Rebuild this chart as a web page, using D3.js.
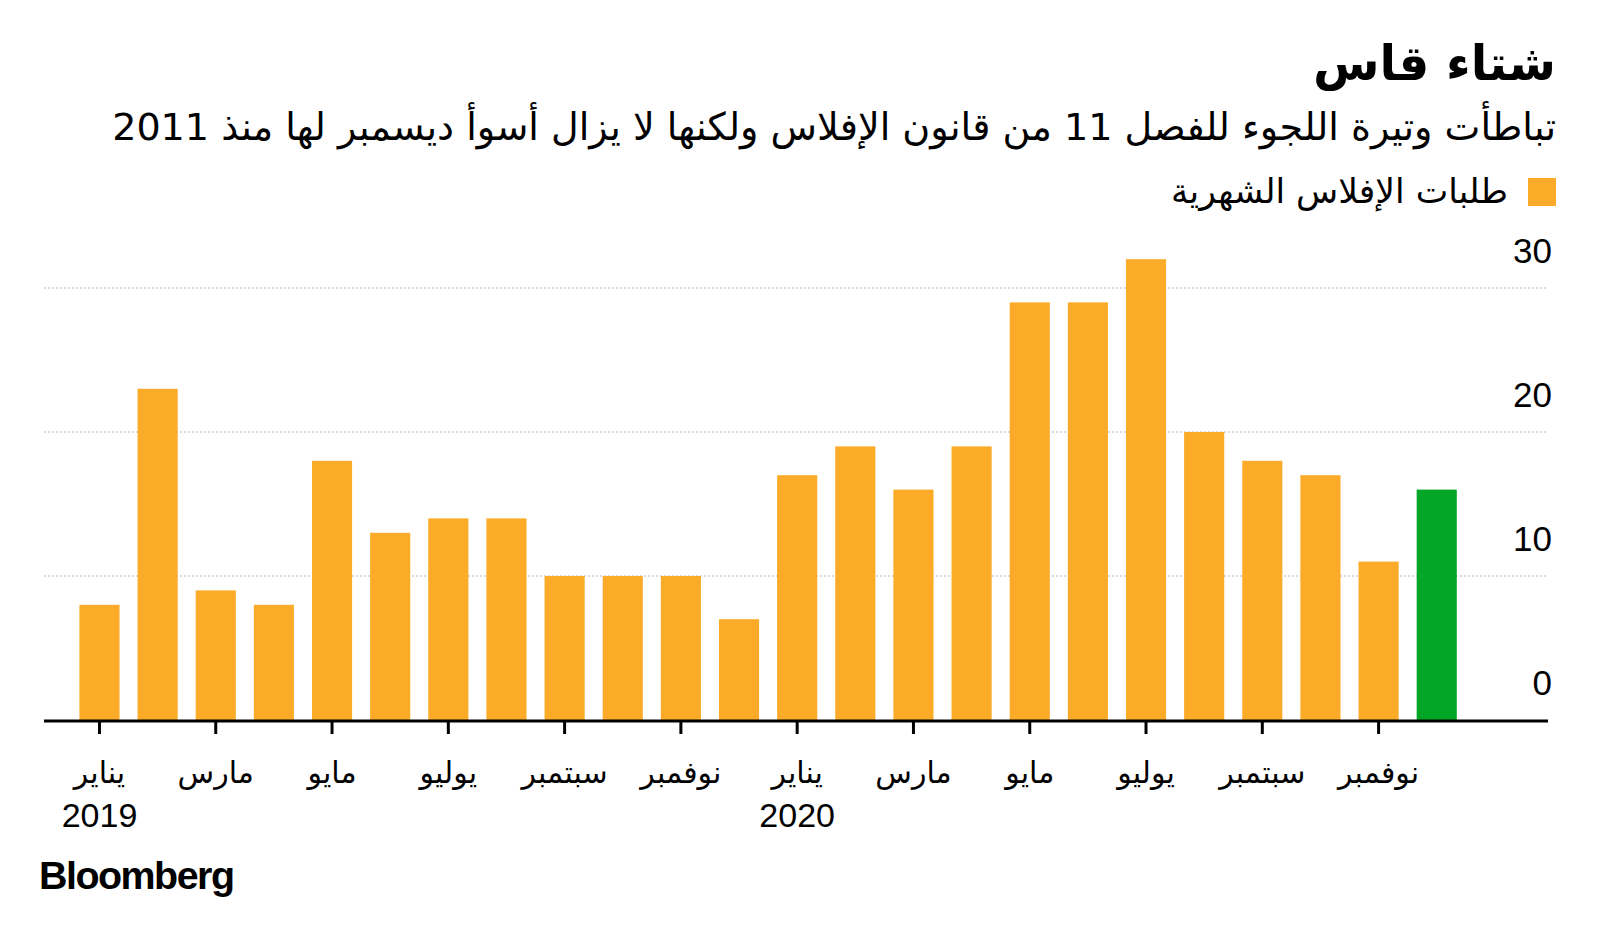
<!DOCTYPE html>
<html>
<head>
<meta charset="utf-8">
<script src="https://cdn.jsdelivr.net/npm/d3@7"></script>
<style>
  html, body { margin: 0; padding: 0; background: #fff; }
  svg { display: block; }
</style>
</head>
<body>
<svg id="chart" width="1600" height="927"></svg>
<script>
// ---- Data ----
const periods = ["2019-01","2019-02","2019-03","2019-04","2019-05","2019-06","2019-07","2019-08","2019-09","2019-10","2019-11","2019-12",
                 "2020-01","2020-02","2020-03","2020-04","2020-05","2020-06","2020-07","2020-08","2020-09","2020-10","2020-11","2020-12"];
const filings = [8,23,9,8,18,13,14,14,10,10,10,7,17,19,16,19,29,29,32,20,18,17,11,16];
const monthNames = ["يناير","فبراير","مارس","أبريل","مايو","يونيو","يوليو","أغسطس","سبتمبر","أكتوبر","نوفمبر","ديسمبر"];
const yTicks = [0,10,20,30];
const titleText = "شتاء قاس";
const subtitleText = "تباطأت وتيرة اللجوء للفصل 11 من قانون الإفلاس ولكنها لا يزال أسوأ ديسمبر لها منذ 2011";
const legendText = "طلبات الإفلاس الشهرية";

const ORANGE = "#FBAB27";
const GREEN = "#02A626";
const arFont = "'DejaVu Sans', 'Noto Sans', sans-serif";
const numFont = "'Liberation Sans', Arial, sans-serif";

const svg = d3.select("#chart");

function fitWidth(sel, target) {
  const node = sel.node();
  const fs = parseFloat(sel.attr("font-size"));
  const w = node.getComputedTextLength();
  if (w > 0) sel.attr("font-size", (fs * target / w).toFixed(2));
}

// ---- Header ----
const title = svg.append("text")
  .attr("x", 1556).attr("y", 80)
  .attr("direction", "rtl").attr("text-anchor", "start")
  .attr("font-family", arFont).attr("font-weight", "bold")
  .attr("font-size", 50).attr("fill", "#000")
  .text(titleText);
fitWidth(title, 243);

const sub = svg.append("text")
  .attr("x", 1556).attr("y", 140)
  .attr("direction", "rtl").attr("text-anchor", "start")
  .attr("font-family", arFont)
  .attr("font-size", 32).attr("fill", "#000")
  .text(subtitleText);
fitWidth(sub, 1444);

svg.append("rect")
  .attr("x", 1528).attr("y", 178).attr("width", 28).attr("height", 28)
  .attr("fill", ORANGE);
const leg = svg.append("text")
  .attr("x", 1508).attr("y", 203)
  .attr("direction", "rtl").attr("text-anchor", "start")
  .attr("font-family", arFont)
  .attr("font-size", 30).attr("fill", "#000")
  .text(legendText);
fitWidth(leg, 337);

// ---- Scales ----
const x = d3.scaleBand().domain(periods).range([70.4, 1465.8]).paddingInner(0.31).paddingOuter(0.155);
const y = d3.scaleLinear().domain([0, 30]).range([720, 288]);
const plotLeft = 44, plotRight = 1548;

// gridlines
svg.append("g").selectAll("line")
  .data(yTicks.filter(d => d > 0))
  .join("line")
  .attr("x1", plotLeft).attr("x2", plotRight)
  .attr("y1", d => y(d)).attr("y2", d => y(d))
  .attr("stroke", "#b5b5b5").attr("stroke-width", 1)
  .attr("stroke-dasharray", "2,2");

// y labels
svg.append("g").selectAll("text")
  .data(yTicks)
  .join("text")
  .attr("x", 1552).attr("y", d => y(d) - 25)
  .attr("text-anchor", "end")
  .attr("font-family", numFont).attr("font-size", 35)
  .attr("fill", "#000")
  .text(d => d);

// bars
svg.append("g").selectAll("rect")
  .data(periods.map((p, i) => ({p, v: filings[i], last: i === periods.length - 1})))
  .join("rect")
  .attr("x", d => x(d.p))
  .attr("width", x.bandwidth())
  .attr("y", d => y(d.v))
  .attr("height", d => y(0) - y(d.v))
  .attr("fill", d => d.last ? GREEN : ORANGE);

// x axis
const tickVals = periods.filter((p, i) => i % 2 === 0);
const xAxis = d3.axisBottom(x)
  .tickValues(tickVals)
  .tickSize(14)
  .tickSizeOuter(0)
  .tickFormat(p => monthNames[+p.slice(5) - 1]);

const gx = svg.append("g")
  .attr("transform", `translate(0,${y(0)})`)
  .call(xAxis);
gx.select(".domain").remove();
gx.selectAll(".tick line").attr("stroke", "#000").attr("stroke-width", 3);
gx.selectAll(".tick text")
  .attr("font-family", arFont).attr("font-size", 30)
  .attr("fill", "#000")
  .attr("y", 0).attr("dy", 0)
  .attr("transform", "translate(0,63)");
gx.selectAll(".tick").filter(p => p.endsWith("-01"))
  .append("text")
  .attr("y", 107).attr("text-anchor", "middle")
  .attr("font-family", numFont).attr("font-size", 34)
  .attr("fill", "#000")
  .text(p => p.slice(0, 4));

// baseline
svg.append("line")
  .attr("x1", plotLeft).attr("x2", plotRight)
  .attr("y1", y(0) + 1).attr("y2", y(0) + 1)
  .attr("stroke", "#000").attr("stroke-width", 3);

// Bloomberg
const logo = svg.append("text")
  .attr("x", 39).attr("y", 889)
  .attr("font-family", numFont).attr("font-weight", "bold")
  .attr("font-size", 38).attr("letter-spacing", -1.5).attr("fill", "#000")
  .text("Bloomberg");
fitWidth(logo, 194);
</script>
</body>
</html>
